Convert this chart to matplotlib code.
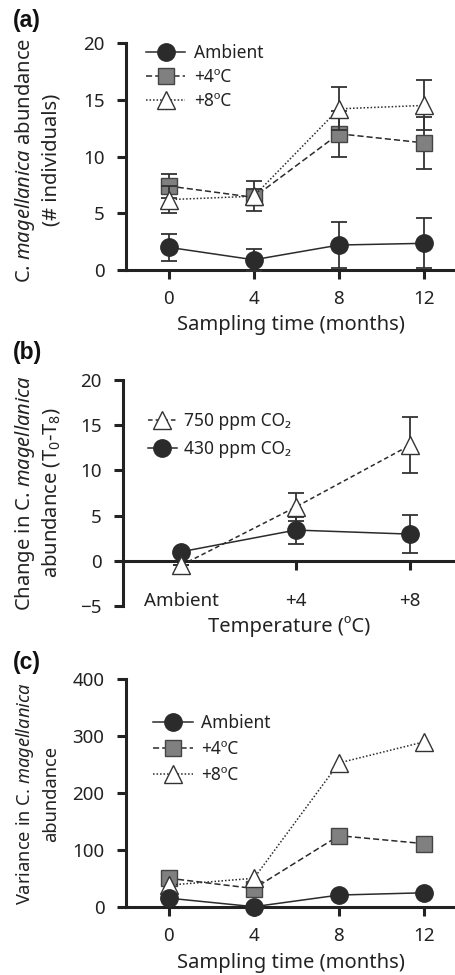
import matplotlib
matplotlib.use("Agg")
import matplotlib.pyplot as plt

plt.rcParams['font.family'] = ['Noto Sans', 'DejaVu Sans']
plt.rcParams['mathtext.fontset'] = 'custom'
plt.rcParams['mathtext.rm'] = 'Noto Sans'
plt.rcParams['mathtext.it'] = 'Noto Sans:italic'
plt.rcParams['mathtext.default'] = 'regular'

# ---------------- data ----------------
months = [0, 4, 8, 12]
month_labels = ['0', '4', '8', '12']

# (a) abundance (# individuals)
amb_mean = [2.0, 0.9, 2.2, 2.35]
amb_err = [1.2, 0.95, 2.0, 2.2]
t4_mean = [7.4, 6.4, 12.0, 11.2]
t4_err = [1.1, 0.7, 2.0, 2.3]
t8_mean = [6.2, 6.5, 14.2, 14.5]
t8_err = [1.2, 1.3, 1.9, 2.2]

# (b) change in abundance T0-T8
temp_labels = ['Ambient', '+4', '+8']
co2_750_mean = [-0.5, 5.95, 12.8]
co2_750_err = [0.0, 1.6, 3.1]
co2_430_mean = [1.0, 3.4, 2.95]
co2_430_err = [0.0, 1.5, 2.1]

# (c) variance in abundance
amb_var = [15, 0, 20.5, 24.5]
t4_var = [50, 32, 125, 111]
t8_var = [38, 50, 253, 290]

series_names = ['Ambient', '+4\u00baC', '+8\u00baC']

# ---------------- style ----------------
DARK = '#2b2b2b'
GREY = '#808080'
TXT = '#222222'
SPW = 2.2
FS_TICK = 13.5
FS_LAB = 14.5
FS_LEG = 12.5

sty_amb = dict(color=DARK, ls='-', lw=1.1, marker='o', ms=12.5, mfc=DARK, mec=DARK)
sty_t4 = dict(color=DARK, ls=(0, (4, 2)), lw=1.1, marker='s', ms=11.5, mfc=GREY, mec='#444444', mew=1.0)
sty_t8 = dict(color=DARK, ls=(0, (1, 1.3)), lw=1.1, marker='^', ms=13.5, mfc='white', mec='#333333', mew=1.0)
err_kw = dict(ecolor='#333333', elinewidth=1.3, capsize=6, capthick=1.3)

fig = plt.figure(figsize=(4.55, 9.75), dpi=100)


def style_axes(ax):
    for s in ['top', 'right']:
        ax.spines[s].set_visible(False)
    for s in ['left', 'bottom']:
        ax.spines[s].set_linewidth(SPW)
        ax.spines[s].set_color(TXT)
    ax.tick_params(axis='both', direction='out', length=6.5, width=SPW,
                   color=TXT, labelsize=FS_TICK, labelcolor=TXT)
    ax.tick_params(axis='y', pad=9)
    ax.tick_params(axis='x', pad=8)


def plot_series(ax, x, y, err, sty, label, z):
    if err is not None:
        ax.errorbar(x, y, yerr=err, fmt='none', zorder=z - 1, clip_on=False, **err_kw)
    ax.plot(x, y, label=label, zorder=z, clip_on=False, **sty)


def panel_label(y_px, text):
    fig.text(13 / 455, 1 - y_px / 975, text, fontsize=16.5, fontweight='bold',
             family='Liberation Sans', ha='left', va='center', color='#111111')


def ylabels(y_px, line1, line2, fs=FS_LAB):
    fig.text(25 / 455, 1 - y_px / 975, line1, rotation=90, ha='center', va='center',
             fontsize=fs, color=TXT)
    fig.text(51 / 455, 1 - y_px / 975, line2, rotation=90, ha='center', va='center',
             fontsize=fs, color=TXT)


# ---------------- (a) ----------------
axA = fig.add_axes([126 / 455, 1 - 270 / 975, 329 / 455, 227 / 975])
style_axes(axA)
plot_series(axA, months, amb_mean, amb_err, sty_amb, series_names[0], 6)
plot_series(axA, months, t4_mean, t4_err, sty_t4, series_names[1], 5)
plot_series(axA, months, t8_mean, t8_err, sty_t8, series_names[2], 7)
axA.set_xlim(-2.0, 13.45)
axA.set_ylim(0, 20)
axA.set_yticks([0, 5, 10, 15, 20])
axA.set_xticks(months)
axA.set_xticklabels(month_labels)
axA.set_xlabel('Sampling time (months)', fontsize=FS_LAB, color=TXT, labelpad=5)
handles, labels = axA.get_legend_handles_labels()
axA.legend(handles, labels, loc='upper left', bbox_to_anchor=(0.033, 1.035), frameon=False,
           fontsize=FS_LEG, handlelength=2.3, handletextpad=0.5, labelspacing=0.35,
           borderpad=0, labelcolor=TXT)
ylabels(160, 'C. $\\mathit{magellanica}$ abundance', '(# individuals)')
panel_label(21, '(a)')

# ---------------- (b) ----------------
axB = fig.add_axes([123 / 455, 1 - 606 / 975, 332 / 455, 226 / 975])
style_axes(axB)
xb = list(range(len(temp_labels)))
axB.spines['bottom'].set_position(('data', 0))
plot_series(axB, xb, co2_750_mean, co2_750_err, dict(sty_t8, ls=(0, (3, 2))),
            '750 ppm CO\u2082', 6)
plot_series(axB, xb, co2_430_mean, co2_430_err, sty_amb, '430 ppm CO\u2082', 5)
axB.set_xlim(-0.507, 2.39)
axB.set_ylim(-5, 20)
axB.set_yticks([-5, 0, 5, 10, 15, 20])
axB.set_yticklabels(['\u22125', '0', '5', '10', '15', '20'])
axB.set_xticks(xb)
axB.set_xticklabels(temp_labels)
axB.tick_params(axis='x', pad=16)
axB.set_xlabel('Temperature (\u00baC)', fontsize=FS_LAB, color=TXT, labelpad=4)
axB.legend(loc='upper left', bbox_to_anchor=(0.048, 0.895), frameon=False,
           fontsize=FS_LEG, handlelength=1.7, handletextpad=0.4, labelspacing=0.55,
           borderpad=0, labelcolor=TXT)
ylabels(493, 'Change in C. $\\mathit{magellanica}$', 'abundance (T$_0$-T$_8$)')
panel_label(352, '(b)')

# ---------------- (c) ----------------
axC = fig.add_axes([126 / 455, 1 - 906.7 / 975, 329 / 455, 227.3 / 975])
style_axes(axC)
plot_series(axC, months, amb_var, None, sty_amb, series_names[0], 7)
plot_series(axC, months, t4_var, None, sty_t4, series_names[1], 5)
plot_series(axC, months, t8_var, None, sty_t8, series_names[2], 6)
axC.set_xlim(-2.02, 13.46)
axC.set_ylim(0, 400)
axC.set_yticks([0, 100, 200, 300, 400])
axC.set_xticks(months)
axC.set_xticklabels(month_labels)
axC.set_xlabel('Sampling time (months)', fontsize=FS_LAB, color=TXT, labelpad=6)
handles, labels = axC.get_legend_handles_labels()
axC.legend(handles, labels, loc='upper left', bbox_to_anchor=(0.055, 0.885), frameon=False,
           fontsize=FS_LEG, handlelength=2.3, handletextpad=0.5, labelspacing=0.45,
           borderpad=0, labelcolor=TXT)
ylabels(794, 'Variance in C. $\\mathit{magellanica}$', 'abundance', fs=13.2)
panel_label(662, '(c)')

fig.savefig('out.png', dpi=100)
